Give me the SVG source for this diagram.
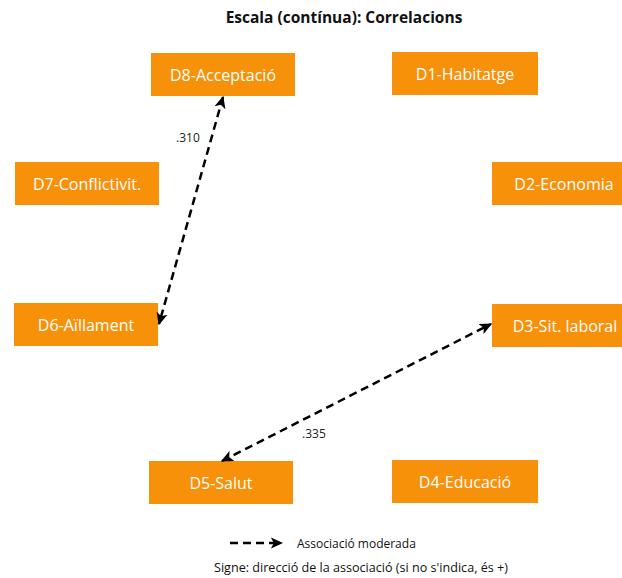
<svg xmlns="http://www.w3.org/2000/svg" width="622" height="578" viewBox="0 0 622 578">
  <defs>
    <marker id="arrow" viewBox="0 0 10 10" refX="9" refY="5" markerWidth="5" markerHeight="5" orient="auto-start-reverse" markerUnits="strokeWidth">
      <path d="M0,0.5 L10,5 L0,9.5 L2.5,5 z" fill="#000"/>
    </marker>
    <style>
      .box { fill: #F7910A; }
      .lbl { fill: #fff; font-family: "Open Sans", "Liberation Sans", sans-serif; font-size: 16px; text-anchor: middle; dominant-baseline: central; }
      .link { stroke: #000; stroke-width: 2.5; stroke-dasharray: 8 5; fill: none; marker-start: url(#arrow); marker-end: url(#arrow); }
      .val { font-family: "Open Sans", "Liberation Sans", sans-serif; font-size: 12px; fill: #222; }
      .title { font-family: "Open Sans", "Liberation Sans", sans-serif; font-size: 15.5px; font-weight: bold; fill: #111; text-anchor: middle; }
      .legend { font-family: "Open Sans", "Liberation Sans", sans-serif; font-size: 12px; fill: #111; }
      .note { font-size: 12.6px; }
    </style>
  </defs>
  <rect width="622" height="578" fill="#fff"/>

  <text class="title" x="344" y="23">Escala (contínua): Correlacions</text>

  <g id="D8"><rect class="box" x="151" y="53" width="144" height="43"/><text class="lbl" x="223" y="74.5">D8-Acceptació</text></g>
  <g id="D1"><rect class="box" x="392" y="52" width="146" height="43"/><text class="lbl" x="465" y="73.5">D1-Habitatge</text></g>
  <g id="D7"><rect class="box" x="15" y="162" width="144" height="43"/><text class="lbl" x="87" y="183.5">D7-Conflictivit.</text></g>
  <g id="D2"><rect class="box" x="492" y="162" width="144" height="43"/><text class="lbl" x="564" y="183.5">D2-Economia</text></g>
  <g id="D6"><rect class="box" x="14" y="303" width="144" height="43"/><text class="lbl" x="86" y="324.5">D6-Aïllament</text></g>
  <g id="D3"><rect class="box" x="492" y="304" width="144" height="43"/><text class="lbl" x="565" y="325.5">D3-Sit. laboral</text></g>
  <g id="D5"><rect class="box" x="149" y="461" width="144" height="43"/><text class="lbl" x="221" y="482.5">D5-Salut</text></g>
  <g id="D4"><rect class="box" x="392" y="460" width="146" height="43"/><text class="lbl" x="465" y="481.5">D4-Educació</text></g>

  <g id="connectors">
    <line class="link" x1="223" y1="97" x2="159" y2="324"/>
    <line class="link" x1="222" y1="461" x2="491" y2="324"/>
    <text class="val" x="176" y="142">.310</text>
    <text class="val" x="302" y="438">.335</text>
  </g>

  <g id="legend">
    <line x1="230" y1="543" x2="282" y2="543" stroke="#000" stroke-width="2.5" stroke-dasharray="8 5" marker-end="url(#arrow)"/>
    <text class="legend" x="297" y="548">Associació moderada</text>
    <text class="legend note" x="214" y="572">Signe: direcció de la associació (si no s'indica, és +)</text>
  </g>
</svg>
